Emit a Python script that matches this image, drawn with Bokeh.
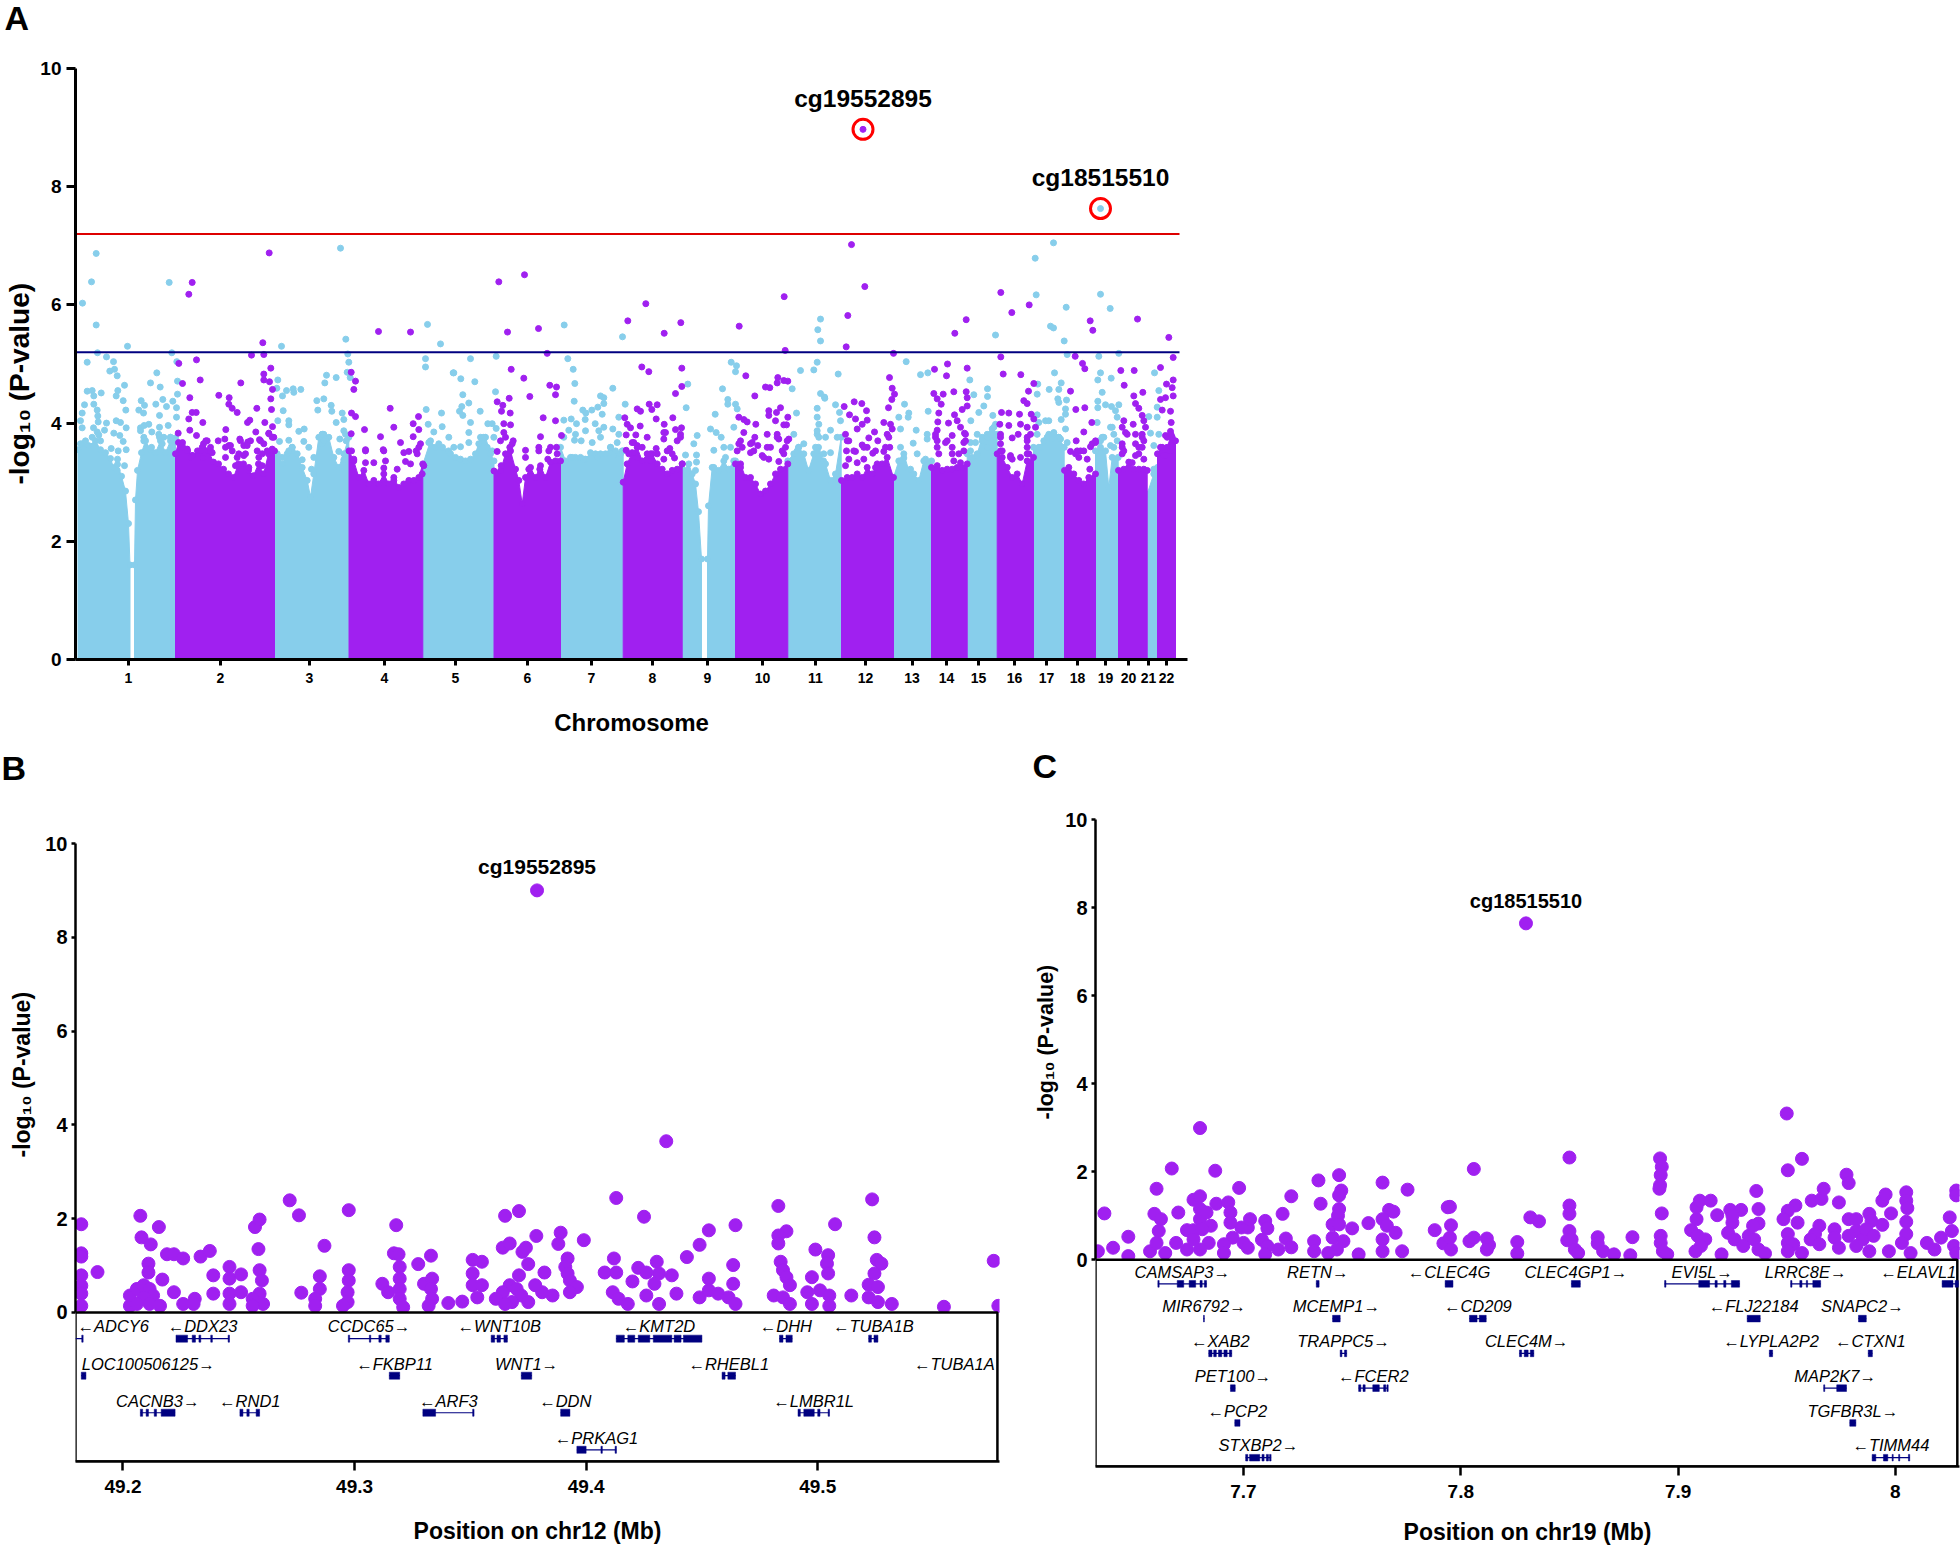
from bokeh.plotting import figure
from bokeh.layouts import column, row
from bokeh.models import Range1d, FixedTicker, Title
from bokeh.core.properties import value
from bokeh.embed import file_html
from bokeh.resources import INLINE

LIGHT = "#87CEEB"
PURPLE = "#A020F0"
NAVY = "#000080"
FONT = "Liberation Sans"

chrom_labels = [str(i) for i in range(1, 23)]
chrom_ticks = [53, 145, 234, 309, 380, 452, 516, 577, 632, 687, 740, 790, 836.6, 871, 903, 939, 971, 1002, 1030, 1053, 1073, 1091]

# upper edge of the solid body of each chromosome (pos, -log10 P); None separates bodies
light_body = [
    (2.5,3.55),(7,3.65),(13,3.62),(20,3.7),(25,3.55),(30,3.5),(35,3.4),(38,3.25),(42,3.3),(46,3.1),(50,2.85),(53,2.3),(54.5,1.6), None,
    (59,1.6),(60,2.7),(62,3.2),(66,3.5),(70,3.7),(75,3.55),(80,3.5),(85,3.7),(90,3.5),(95,3.7),(100,3.75), None,
    (199,3.4),(201.7,3.48),(206.7,3.31),(211.7,3.48),(216.7,3.59),(221.7,3.48),(226.7,3.25),(231.7,3.03),(235,2.75),(238.3,3.14),(243.3,3.76),(248.3,3.81),(253.3,3.76),(258.3,3.42),(263.3,3.25),(268.3,3.48),(273.3,3.76), None,
    (347.3,3.3),(355,3.7),(360,3.59),(367,3.59),(373,3.53),(375,3.48),(380,3.42),(385,3.39),(390,3.36),(395,3.39),(400,3.48),(405,3.76),(410,3.76),(415,3.48),(418.5,3.36), None,
    (485,3.59),(490,3.36),(495,3.42),(500,3.42),(505,3.42),(510,3.39),(515,3.5),(520,3.48),(525,3.48),(530,3.48),(535,3.59),(540,3.53),(545,3.48),(547.7,3.53), None,
    (606.7,3.2),(608.3,3.2),(613.3,3.31),(616.7,3.14),(620,2.97),(623,2.5),(626,1.7), None,
    (632,1.7),(633,2.6),(636.7,3.25),(643,3.2),(648.3,3.36),(653.3,3.22),(658.3,3.36),(660,3.36), None,
    (712.3,3.36),(718.3,3.48),(723,3.59),(728.3,3.48),(733,3.2),(738.3,3.48),(743,3.59),(748,3.36),(750,3.31),(755,3.03),(760,3.14),(765.7,3.76), None,
    (818,3.08),(823.3,3.36),(828.3,3.48),(833.3,3.2),(838.3,3.14),(843.3,3.03),(848.3,3.36),(853.3,3.31),(856,3.36), None,
    (891.7,3.48),(896.7,3.42),(901.7,3.48),(906.7,3.76),(911.7,3.81),(916.7,3.9),(921.7,3.81), None,
    (958,3.59),(963.3,3.59),(968.3,3.7),(973.3,3.81),(978.3,3.81),(983.3,3.76),(988.7,3.59), None,
    (1020,3.53),(1025,3.59),(1030,3.53),(1033.3,2.91),(1036.7,3.42),(1042.7,3.42), None,
    (1071.7,2.8),(1078.3,3.14),(1082,3.25),
]
purple_body = [
    (100,3.48),(103,3.67),(107,3.67),(112,3.53),(117,3.45),(122,3.53),(128,3.65),(133,3.53),(138,3.34),(143,3.31),(148,3.22),(153,3.14),(158,3.08),(163,3.31),(168,3.31),(173,3.2),(178,3.11),(183,3.31),(188,3.14),(193,3.48),(199,3.53), None,
    (273.5,3.53),(278.3,3.36),(283.3,3.08),(288.3,3.2),(293.3,2.97),(298.3,3.03),(303.3,2.97),(308.3,3.14),(313.3,2.97),(318.3,3.08),(323.3,2.91),(328.3,2.97),(333.3,3.03),(338.3,3.03),(343.3,3.08),(347.3,3.31), None,
    (418.5,3.19),(425,3.19),(430,3.48),(435,3.53),(440,3.22),(443.3,3.03),(446.7,2.63),(450,3.08),(455,3.25),(460,3.08),(465,3.28),(470,3.08),(475,3.34),(480,3.36),(485,3.36), None,
    (547.7,3.0),(551.7,3.31),(556.7,3.5),(561.7,3.59),(566.7,3.36),(571.7,3.48),(576.7,3.48),(581.7,3.31),(586.7,3.22),(591.7,3.14),(596.7,3.2),(601.7,3.22),(606.7,3.31), None,
    (660,3.31),(665,3.31),(670,3.08),(675,3.08),(680,2.97),(685,2.8),(690,2.85),(695,2.97),(700,3.14),(705,3.22),(712.3,3.31), None,
    (766,3.03),(771.7,3.08),(776.7,3.08),(781.7,3.14),(786.7,3.08),(791.7,3.25),(796.7,3.14),(801.7,3.31),(806.7,3.31),(811.7,3.42),(818,3.08), None,
    (856,3.25),(861.7,3.28),(866.7,3.2),(871.7,3.22),(876.7,3.22),(881.7,3.25),(886.7,3.25),(891.7,3.31), None,
    (921.7,3.48),(926.7,3.42),(931.7,3.25),(936.7,3.08),(941.7,3.14),(946.7,2.97),(951.7,3.36),(958,3.42), None,
    (989,3.2),(993.3,3.25),(998.3,3.14),(1003.3,3.03),(1008.3,2.97),(1013.3,3.08),(1020,3.14), None,
    (1043,3.2),(1048.3,3.22),(1053.3,3.34),(1058.3,3.22),(1063.3,3.22),(1068.3,3.22),(1071.7,3.2), None,
    (1082,3.48),(1086.7,3.53),(1091.7,3.59),(1095.7,3.8),(1100,3.7),
]

light_points = [
    (20.7,6.87),(16,6.39),(7,6.03),(20.7,5.66),(22,5.19),(52,5.3),(11.7,5.03),(31,5.12),(38,5.04),(34.3,4.88),(39,4.91),(41.7,4.8),(49,4.64),(42.3,4.55),(40.7,4.46),(25.7,4.51),(11.7,4.54),(16.7,4.55),(18.3,4.46),(47.7,4.38),(9,4.31),(18.3,4.32),(21.7,4.22),(6.7,4.17),(50.3,4.22),(22.3,4.12),(5,4.04),(22.7,4.02),(31,4.0),(40.7,4.04),(45,4.01),(50.7,3.92),(6.7,3.92),(18,3.92),(21.7,3.85),(29,3.88),(23.3,3.8),(38.3,3.83),(44.3,3.79),(47.7,3.69),(50.7,3.55),(35.7,3.57),(42.7,3.53),(42,3.39),(49,3.28),(41.7,3.2),
    (65.7,4.38),(69,4.3),(63.3,4.22),(68,4.17),(75,4.68),(81.3,4.85),(84.7,4.61),(80.3,4.32),(87.3,4.4),(91,4.28),(97.3,4.37),(102,4.49),(102,4.71),(101,4.26),(84,4.13),(101,4.1),(73.3,3.98),(65,3.92),(68.7,3.96),(76.3,3.85),(92.7,3.96),(84,3.93),(95,3.76),(68.3,3.76),(76,3.59),(84,3.76),(86.7,3.65),(96.3,5.19),(93.7,6.38),(101.3,5.04),
    (5,3.65),(10,3.7),(16.7,3.76),(25,3.7),(68.3,3.7),(83.3,3.81),(88.3,3.76),(95,3.76),(65,3.87),
    (206,5.3),(202.3,4.73),(201.3,4.59),(207,4.46),(211,4.55),(217.7,4.58),(218.3,4.52),(225.3,4.57),(207.7,4.21),(202.3,4.04),(213.3,4.04),(213.3,3.97),(223.3,3.86),(228.7,3.9),(213.3,3.71),(204,3.69),(228.3,3.69),(233.3,3.59),(241.3,4.38),(248.3,4.41),(242.3,4.22),(255.7,4.3),(256.3,4.2),(251,4.81),(249.3,4.68),(260.7,4.77),(265,6.96),(270.3,5.42),(272.3,5.17),(273.3,5.03),(271.7,4.86),(274.7,4.77),(266.7,4.17),(268.3,4.06),(260.7,4.01),(268.3,3.87),(246.7,3.81),(250,3.73),(264.3,3.73),(246.7,3.65),(270.7,3.7),(263.3,3.52),(238.3,3.42),(226.7,3.38),(216.7,3.53),(268.3,3.38),(236,3.22),(206.7,3.42),
    (216.7,3.59),(203.3,3.42),(246.7,3.81),(248.3,3.7),(270,3.81),(213.3,3.53),
    (352,5.67),(365,5.34),(350,5.09),(350,4.95),(377.7,4.85),(350.7,4.23),(366,4.17),(352.7,3.98),(358.3,3.85),(366.7,3.94),(373.3,3.76),(353.3,3.67),(363.3,3.65),
    (378.3,4.85),(385.3,4.75),(399.3,4.7),(395,5.09),(420.7,5.13),(420,4.53),(387.3,4.48),(393.3,4.34),(386.3,4.28),(384,4.2),(387.3,4.13),(404.7,4.2),(395,4.01),(412.3,3.99),(416.7,3.99),(420.7,3.91),(393.3,3.84),(393.3,3.67),(408.3,3.76),(385,3.6),(403.3,3.65),(411.7,3.59),(418.3,3.76),(416.7,3.53),(378.3,3.59),
    (488.7,5.66),(492.3,5.09),(497.7,4.91),(499.3,4.67),(498.7,4.37),(537.3,4.59),(547,5.46),(525,4.46),(528.3,4.43),(528.3,4.33),(522.3,4.27),(516.3,4.22),(507.3,4.22),(510.3,4.17),(526.7,4.15),(549.7,4.32),(543.3,4.1),(488.3,4.05),(495.7,4.07),(501,3.99),(509.7,4.06),(519.7,3.99),(493.3,3.88),(510,3.87),(523.3,3.87),(528.3,3.93),(537.3,3.9),(543.3,3.81),(500,3.81),(488.3,3.76),(499,3.71),(505.7,3.7),(516.7,3.67),(525,3.76),(541.7,3.67),(535,3.59),(496.7,3.42),(508.3,3.39),(521.7,3.42),(538.3,3.45),(546.7,3.53),
    (612.3,4.66),(610.7,4.26),(639.7,4.15),(647,4.58),(655.7,5.03),(661,4.97),(660,4.87),(652.3,4.4),(652.3,4.32),(660,4.32),(661.7,4.24),(621.7,3.79),(618.3,3.65),(621,3.46),(621,3.34),(610,3.46),(635,3.9),(640.7,3.84),(645.7,3.76),(658.3,3.93),(638.3,3.54),(648.3,3.59),(655,3.59),(620,3.2),(638.3,3.25),(650,3.42),
    (745,5.76),(742.3,5.58),(745,5.39),(741.7,5.03),(725,4.89),(738.3,4.9),(716.7,4.58),(745,4.5),(749,4.44),(741.7,4.25),(721,4.17),(741.7,4.1),(743.3,3.98),(741.7,3.81),(718.3,3.81),(728.3,3.65),(721.7,3.53),(741.7,3.53),(748.3,3.48),(762.7,4.83),(749.3,4.42),(760,4.31),(764,4.18),(765,4.04),(755,3.88),(750,3.76),(761.7,3.76),(755,3.5),
    (723.3,3.59),(740,3.59),(743.3,3.76),(741.7,3.87),
    (830.7,5.04),(845,4.82),(852.3,4.85),(829,4.32),(823.3,4.1),(833.3,4.17),(852.7,4.2),(832.7,4.1),(825,3.9),(840.7,3.88),(851.7,3.81),(851.7,3.73),(837.7,3.66),(825,3.59),(841.7,3.48),(828.3,3.41),(850,3.39),(825,3.36),(835,3.22),
    (894.3,4.73),(912,4.58),(912,4.45),(898.3,4.48),(908.3,4.29),(903.3,4.18),(917.3,4.13),(895.3,4.04),(920,3.98),(901.7,3.81),(895,3.67),(900,3.67),(911.7,3.76),(918.3,3.81),(901.7,3.45),(895,3.53),(911.7,3.59),(920,5.49),(906.7,3.7),(918.3,3.93),(915,3.81),
    (959.7,6.79),(978,7.05),(960.7,6.17),(990.7,5.96),(975,5.64),(978,5.61),(988.7,5.39),(991.7,5.16),(979,4.85),(962.3,4.66),(985.7,4.68),(973.7,4.57),(983.3,4.57),(961.7,4.49),(982.3,4.41),(991,4.39),(983.3,4.35),(990,4.24),(961.7,4.14),(990,4.15),(985.7,4.06),(970,4.04),(973.3,4.04),(963.3,4.01),(990,3.9),(961.7,3.81),(978.3,3.81),(971.7,3.76),(983.3,3.76),(976.7,3.73),(991.7,3.67),(978.3,3.84),(985,3.73),(965,3.59),
    (1025,6.18),(1034.7,5.94),(1023.3,5.13),(1043.3,5.18),(1025,4.85),(1022.3,4.73),(1035.7,4.76),(1026.7,4.52),(1022.3,4.37),(1030,4.31),(1022.3,4.26),(1043.3,4.31),(1036,4.28),(1040,4.21),(1041.7,4.1),(1021.7,4.01),(1036.7,3.93),(1038.3,3.81),(1026.7,3.76),(1035,3.62),(1025,3.7),(1041.7,3.7),(1023.3,3.7),(1028.3,3.76),(1038.3,3.59),(1035,3.93),
    (1079,4.85),(1083.3,4.55),(1081.7,4.27),(1073.3,4.11),(1081.7,4.1),(1075,3.83),(1083.3,3.81),(1078.3,3.62),(1078.3,3.22),
]
purple_points = [
    (103.3,5.01),(113.3,6.18),(116.7,6.38),(121,5.07),(107,4.67),(124.7,4.73),(114.3,4.43),(116.7,4.18),(120.7,4.18),(113.3,4.07),(127.3,4.01),(114.3,3.88),(102.7,3.83),(121,3.79),(130.3,3.7),(106.7,3.62),(111.7,3.56),(126.7,3.59),(135,3.53),(116.7,3.45),(127.3,3.41),(142.7,3.7),(150.3,3.89),(143.3,4.47),(153.7,4.43),(153.3,4.32),(156.7,4.25),(161.7,4.18),(165.3,4.68),(176,5.15),(187.3,5.36),(188.3,5.16),(193.7,6.88),(195.3,4.93),(188.3,4.83),(188.3,4.73),(194,4.7),(197,4.57),(195.3,4.41),(196,4.23),(181.3,4.25),(172,4.01),(174.3,4.05),(189.3,4.01),(197,3.94),(180.3,3.85),(193.3,3.83),(196.7,3.76),(184,3.72),(164.3,3.73),(172.3,3.68),(149.3,3.73),(153.3,3.62),(168.3,3.62),(188.3,3.65),(181.7,3.53),(196.7,3.56),(150,3.42),(161.7,3.42),(168.3,3.45),(183.3,3.42),(160,3.28),(173.3,3.25),(186.7,3.28),
    (106.7,3.59),(111.7,3.53),(115,3.42),(125,3.53),(131.7,3.7),(135,3.59),(136.7,3.5),(150,3.59),(155,3.62),(156.7,3.53),(165,3.7),(171.7,3.62),(175,3.7),(185,3.7),(193.3,3.82),(198.3,3.76),(163.3,3.48),(170,3.48),(186.7,3.48),(191.7,3.53),
    (275.7,4.86),(280,4.71),(278.3,4.57),(276,4.17),(280,4.11),(275.7,3.82),(289,3.89),(303,5.55),(335,5.54),(314.7,4.25),(305,3.77),(318.3,3.93),(343,4.11),(337.7,3.99),(343.3,3.89),(337.7,3.77),(325,3.67),(290,3.55),(307.7,3.55),(276,3.53),(278.3,3.39),(290,3.33),(298.3,3.33),(310,3.36),(308.3,3.24),(333.3,3.52),(340.7,3.53),(345,3.65),(330,3.35),(335,3.31),(348.3,3.28),(346.7,3.14),(321.7,3.22),(318.3,3.03),
    (341.7,3.48),(343.3,3.59),(328.3,3.5),(290,3.53),(308.3,3.53),
    (423.3,6.39),(449,6.51),(432,5.54),(463,5.6),(471.7,5.18),(435.7,4.91),(448.3,4.76),(474.3,4.64),(481,4.61),(480,4.48),(454.3,4.45),(433.7,4.42),(421.7,4.36),(427.3,4.3),(426,4.2),(434.7,4.17),(467.7,4.09),(480,4.04),(428.3,3.99),(435,3.97),(428.3,3.84),(425,3.7),(437.7,3.7),(465,3.77),(434.3,3.59),(421.7,3.52),(450,3.54),(450,3.42),(463.3,3.59),(473.3,3.53),(481,3.59),(472.3,3.39),(425.7,3.28),(453.3,3.22),(464.3,3.22),(486,3.79),
    (430,3.76),(436.7,3.65),(433.3,3.48),(463.3,3.53),(475,3.59),(481.7,3.48),
    (552.3,5.73),(570.3,6.02),(588.7,5.52),(605.3,5.7),(566.3,4.95),(573.3,4.87),(606.3,4.93),(606.3,4.62),(600,4.5),(573.7,4.32),(581.7,4.31),(576.3,4.23),(561.7,4.24),(565,4.2),(549.3,4.09),(580.7,4.07),(597.3,4.09),(551.7,3.98),(555,3.92),(564.7,3.95),(588.7,3.98),(606,3.92),(600,3.89),(550.7,3.8),(560.3,3.8),(571.7,3.76),(590,3.84),(588.3,3.73),(605,3.76),(558.3,3.67),(601.7,3.7),(566.7,3.59),(580.7,3.57),(594.3,3.57),(550.7,3.54),(575,3.48),(588.3,3.39),(599,3.41),(561.7,3.42),(606.7,3.31),
    (553.3,3.48),(561.7,3.62),(556.7,3.67),(575,3.36),(581.7,3.48),(591.7,3.53),(588.3,3.84),(605,3.81),(596.7,3.48),
    (663.7,5.64),(708.7,6.14),(709.7,5.23),(670.3,4.8),(679.3,4.46),(690,4.61),(694.3,4.6),(702.3,4.77),(701.7,4.68),(708.3,4.72),(712.3,4.71),(663.3,4.1),(668.3,4.06),(671.7,4.02),(693.3,4.21),(693.3,4.13),(701,4.18),(705,4.26),(712.3,4.1),(680.3,3.98),(700,4.04),(708.3,3.97),(711,3.97),(668.3,3.84),(691.7,3.81),(701.7,3.81),(703.3,3.73),(713.3,3.73),(679.3,3.76),(663.3,3.65),(666.7,3.59),(676.7,3.67),(682.3,3.62),(675,3.5),(691.7,3.59),(706.7,3.53),(710,3.59),(686.7,3.45),(693.3,3.39),(703.3,3.35),(665,3.25),
    (665,3.7),(661.7,3.53),(678.3,3.53),(675,3.65),(688.3,3.42),(695,3.59),(701.7,3.76),(708.3,3.48),(711.7,3.7),
    (776,7.02),(789.3,6.31),(772.3,5.82),(770.7,5.29),(818,5.18),(814,4.77),(816.7,4.59),(819,4.49),(816.3,4.4),(768.7,4.28),(778.7,4.36),(786.3,4.33),(791,4.21),(774,4.14),(813,4.26),(780,4.07),(791.7,4.05),(808.3,4.01),(786.7,3.98),(781.7,3.9),(816.7,3.9),(770,3.81),(799,3.85),(811.7,3.81),(773.3,3.7),(793.3,3.75),(802.3,3.7),(786.7,3.63),(791.7,3.59),(814.3,3.59),(771,3.53),(780,3.52),(797.3,3.49),(808.3,3.52),(773.3,3.39),(788.3,3.39),(770,3.28),(781.7,3.33),(800,3.25),
    (771.7,3.7),(778.3,3.53),(788.3,3.59),(800,3.53),(810,3.59),(813.3,3.76),(815,3.98),
    (879.3,5.52),(890.7,5.75),(859,4.91),(872,5),(871,4.8),(891.7,4.93),(858.3,4.5),(867.7,4.49),(878.3,4.53),(890.7,4.53),(891.7,4.43),(861.7,4.41),(865.7,4.32),(891.7,4.29),(886.7,4.23),(863.3,4.17),(879,4.14),(862.3,4.02),(881.7,4.04),(873,4),(885,3.93),(861.7,3.88),(889,3.83),(876.7,3.79),(860,3.76),(888.3,3.67),(870,3.67),(861.7,3.59),(876.7,3.59),(888.3,3.53),(876.7,3.48),(863.3,3.48),(885,3.33),(878.3,3.36),
    (860,3.81),(861.7,3.7),(871.7,3.7),(883.3,3.48),(890,3.7),(890,3.81),
    (925.3,6.21),(936.3,5.87),(953.7,6.0),(925.3,5.12),(927.7,4.83),(945.3,4.82),(958.3,4.67),(953,4.54),(948.3,4.38),(951.7,4.33),(926,4.18),(933.3,4.17),(944,4.15),(955.7,4.15),(958.3,4.07),(924.3,3.98),(933.3,3.96),(945,3.98),(951.7,3.93),(960,3.93),(942.7,3.81),(925,3.81),(936.7,3.75),(951.7,3.76),(925,3.65),(951.7,3.59),(935,3.45),(945,3.42),(953.3,3.48),(925,3.53),(936.7,3.39),
    (925,3.76),(926.7,3.53),(935,3.42),(951.7,3.7),(955,3.81),(951.7,3.48),
    (999.7,5.13),(1007,5.01),(1009.3,4.92),(995,4.54),(1000.3,4.23),(1009.3,4.26),(1016.3,4.01),(1008.3,3.85),(1000.7,3.7),(1020,3.67),(1015,3.6),(995,3.52),(1001.7,3.53),(1008.3,3.53),(1003.3,3.42),(1011.7,3.39),(1014.3,3.22),(1014.7,5.73),(1017.3,5.57),
    (1000,3.48),(1005,3.53),(1016.7,3.65),(1020,3.7),
    (1062,5.76),(1045.3,4.89),(1058.7,4.89),(1048.7,4.64),(1058.3,4.46),(1067.3,4.52),(1060,4.33),(1063.3,4.25),(1066.7,4.13),(1048.3,4.04),(1068.3,4.04),(1046.7,3.93),(1057.7,3.98),(1070,3.93),(1051.7,3.81),(1060,3.81),(1066.7,3.76),(1046.7,3.59),(1060,3.65),(1066.7,3.59),(1046.7,3.48),(1063.3,3.48),(1068.3,3.39),(1056.7,3.33),
    (1046.7,3.65),(1048.3,3.53),(1063.3,3.59),(1068.3,3.7),(1066.7,3.81),(1050,3.84),(1060,3.45),
    (1093.3,5.45),(1097.7,5.11),(1085,4.94),(1097.7,4.73),(1091,4.66),(1096.7,4.6),(1090,4.43),(1085,4.4),(1097.7,4.46),(1086.7,4.22),(1095,4.2),(1095.7,4.01),(1095,3.86),(1090,3.79),(1096.7,3.76),(1086.7,3.59),(1095,3.53),(1088.3,3.45),
    (1091.7,3.76),(1096.7,3.59),(1085,3.59),(1095,3.81),(1090,3.45),
]
hits_a = [("cg19552895", 787.5, 8.97, PURPLE), ("cg18515510", 1025, 7.63, LIGHT)]
threshold_red = 7.2
threshold_blue = 5.2
threshold_end = 1104

points_b = [
    (49.182,1.88),(49.182,1.26),(49.182,1.19),(49.182,.79),(49.182,.57),(49.182,.4),(49.182,.14),(49.189,.86),(49.2075,2.06),(49.208,1.6),(49.212,1.45),(49.2155,1.82),(49.211,1.04),(49.211,.85),(49.217,.7),(49.219,1.24),(49.222,1.24),(49.226,1.15),(49.2335,1.19),(49.2375,1.31),(49.239,.79),(49.239,.4),(49.246,.97),(49.246,.72),(49.246,.4),(49.246,.18),(49.251,.81),(49.251,.43),(49.222,.43),(49.226,.18),(49.231,.29),(49.2305,.18),(49.203,.36),(49.203,.14),(49.206,.5),(49.209,.58),(49.2115,.5),(49.213,.36),(49.209,.32),(49.206,.18),(49.2115,.18),(49.216,.14),
    (49.257,1.82),(49.259,1.98),(49.2585,1.35),(49.259,.9),(49.26,.68),(49.259,.4),(49.256,.29),(49.2605,.18),(49.256,.14),(49.272,2.39),(49.276,2.07),(49.277,.42),(49.285,.77),(49.285,.5),(49.283,.29),(49.283,.14),(49.287,1.42),(49.2975,2.18),(49.2975,.9),(49.2975,.68),(49.297,.43),(49.297,.22),(49.295,.14),(49.312,.61),(49.3145,.43),(49.318,1.86),(49.317,1.26),(49.319,1.24),(49.3195,.97),(49.3195,.72),(49.3195,.5),(49.3195,.29),(49.321,.11),(49.3275,1.03),(49.333,1.21),(49.33,.61),(49.3335,.72),(49.333,.5),(49.3335,.29),(49.332,.14),(49.3405,.2),(49.3465,.23),
    (49.351,1.12),(49.355,1.08),(49.351,.83),(49.351,.58),(49.355,.58),(49.353,.32),(49.365,2.06),(49.371,2.16),(49.364,1.38),(49.367,1.47),(49.3725,1.29),(49.374,1.38),(49.375,1.03),(49.3785,1.63),(49.371,.79),(49.367,.58),(49.364,.43),(49.361,.29),(49.37,.5),(49.372,.36),(49.375,.22),(49.368,.22),(49.365,.18),(49.382,.85),(49.389,1.7),(49.388,1.46),(49.399,1.54),(49.392,1.15),(49.391,.97),(49.392,.83),(49.393,.68),(49.396,.54),(49.393,.43),(49.3855,.36),(49.381,.43),(49.378,.58),
    (49.408,.85),(49.412,1.15),(49.413,.85),(49.413,2.44),(49.425,2.04),(49.42,.66),(49.4225,.95),(49.426,.85),(49.426,.36),(49.4305,1.08),(49.4315,.83),(49.4295,.61),(49.437,.79),(49.439,.4),(49.4315,.18),(49.4435,1.18),(49.449,1.44),(49.453,1.75),(49.4645,1.86),(49.4635,1.01),(49.4635,.61),(49.453,.72),(49.4115,.43),(49.414,.29),(49.418,.18),(49.449,.32),(49.453,.47),(49.457,.4),(49.4615,.32),(49.4645,.18),
    (49.483,2.27),(49.4865,1.73),(49.483,1.64),(49.483,1.47),(49.484,1.08),(49.485,.9),(49.4865,.75),(49.488,.58),(49.481,.36),(49.485,.32),(49.488,.18),(49.499,1.34),(49.5075,1.88),(49.5045,1.22),(49.504,1.04),(49.5045,.83),(49.4975,.75),(49.4955,.43),(49.501,.47),(49.505,.36),(49.4975,.18),(49.505,.14),(49.5145,.36),(49.5235,2.41),(49.5245,1.6),(49.5255,1.12),(49.5275,1.04),(49.5245,.83),(49.522,.59),(49.526,.54),(49.522,.32),(49.526,.22),(49.532,.18),(49.5545,.12),(49.576,1.1),(49.578,.14),
]
hit_b = (49.3788, 9.0)
extra_b = (49.4346, 3.65)

points_c = [
    (7.633,.19),(7.636,1.05),(7.64,.27),(7.647,.52),(7.647,.08),(7.657,.19),(7.659,1.04),(7.66,1.61),(7.662,.92),(7.661,.65),(7.66,.38),(7.664,.15),(7.667,2.07),(7.669,.38),(7.67,1.07),(7.674,.67),(7.677,.67),(7.674,.23),(7.677,.46),(7.68,2.99),(7.677,1.36),(7.68,1.44),(7.68,1.15),(7.68,.92),(7.683,1.07),(7.685,.77),(7.681,.69),(7.684,.38),(7.68,.23),(7.687,2.02),(7.6875,1.27),(7.693,1.3),(7.694,1.07),(7.694,.84),(7.698,1.63),(7.699,.73),(7.702,.73),(7.695,.5),(7.7,.38),(7.702,.27),(7.691,.35),(7.691,.15),
    (7.703,.92),(7.71,.88),(7.711,.71),(7.7085,.45),(7.711,.31),(7.716,.23),(7.71,.12),(7.718,1.04),(7.722,1.44),(7.7195,.48),(7.722,.28),(7.7345,1.8),(7.7355,1.27),(7.7325,.42),(7.7325,.19),(7.744,1.92),(7.745,1.57),(7.744,1.46),(7.744,1.15),(7.7435,1.0),(7.741,.8),(7.744,.8),(7.741,.5),(7.746,.42),(7.743,.23),(7.739,.15),(7.753,.12),(7.75,.71),(7.7575,.83),(7.764,1.75),(7.767,1.13),(7.769,1.09),(7.7755,1.59),(7.764,.92),(7.766,.77),(7.77,.61),(7.764,.46),(7.764,.19),(7.773,.19),
    (7.788,.67),(7.794,1.19),(7.795,1.2),(7.7955,.78),(7.792,.37),(7.795,.5),(7.7955,.23),(7.804,.42),(7.806,.5),(7.806,2.06),(7.812,.48),(7.813,.33),(7.812,.23),(7.826,.4),(7.826,.14),(7.832,.96),(7.836,.87),(7.85,2.32),(7.85,1.23),(7.85,1.04),(7.85,.65),(7.849,.44),(7.851,.46),(7.8525,.23),(7.854,.15),(7.863,.51),(7.863,.37),(7.8655,.19),(7.8705,.12),(7.879,.51),(7.878,.1),
    (7.8917,2.3),(7.8925,2.11),(7.892,1.92),(7.8917,1.69),(7.8914,1.61),(7.8925,1.05),(7.892,.54),(7.892,.38),(7.893,.19),(7.895,.12),(7.906,.67),(7.9085,.92),(7.9085,1.19),(7.91,1.34),(7.915,1.34),(7.918,1.01),(7.909,.54),(7.9125,.46),(7.9105,.31),(7.908,.19),(7.92,.12),(7.924,1.13),(7.929,1.13),(7.925,.84),(7.925,1.0),(7.923,.61),(7.926,.46),(7.9325,.54),(7.93,.31),(7.936,1.56),(7.937,1.15),(7.937,.82),(7.9345,.77),(7.935,.46),(7.937,.23),(7.94,.14),
    (7.95,3.32),(7.9505,2.03),(7.957,2.29),(7.954,1.23),(7.9505,1.11),(7.9485,.92),(7.955,.84),(7.9505,.58),(7.9505,.38),(7.953,.35),(7.9505,.19),(7.9615,1.34),(7.966,1.38),(7.967,1.61),(7.965,.77),(7.963,.58),(7.961,.46),(7.965,.35),(7.957,.15),(7.9775,1.93),(7.9785,1.74),(7.974,1.3),(7.9785,.92),(7.982,.92),(7.972,.69),(7.972,.5),(7.974,.27),(7.982,.65),(7.9785,.54),(7.985,.46),(7.988,1.04),(7.989,.88),(7.9865,.69),(7.99,.54),(7.982,.31),(7.988,.19),
    (7.994,1.34),(7.9955,1.48),(7.998,1.05),(7.994,.79),(7.997,.19),(8.005,1.53),(8.005,1.34),(8.0055,1.17),(8.005,.86),(8.005,.58),(8.003,.38),(8.007,.15),(8.0145,.38),(8.018,.23),(8.021,.5),(8.025,.96),(8.026,.65),(8.028,1.57),(8.028,1.46),(8.027,.31),(8.028,.15),
]
hit_c = (7.83, 7.64)

# gene tracks: name, start, end, strand, row, exons
genes_b = [
    ("ADCY6", 49.1795, 49.1825, "-", 0, [(49.1822, 49.1828)]),
    ("DDX23", 49.2229, 49.2458, "-", 0, [(49.2229, 49.2279), (49.2299, 49.2313), (49.2328, 49.2336), (49.2379, 49.2386), (49.2454, 49.246)]),
    ("CCDC65", 49.2975, 49.315, "+", 0, [(49.2973, 49.2979), (49.3064, 49.307), (49.3105, 49.3115), (49.3135, 49.315)]),
    ("WNT10B", 49.359, 49.366, "-", 0, [(49.359, 49.3605), (49.3615, 49.363), (49.3645, 49.366)]),
    ("KMT2D", 49.413, 49.45, "-", 0, [(49.413, 49.4165), (49.418, 49.421), (49.4225, 49.4275), (49.429, 49.437), (49.438, 49.441), (49.442, 49.45)]),
    ("DHH", 49.4835, 49.489, "-", 0, [(49.4835, 49.485), (49.4863, 49.489)]),
    ("TUBA1B", 49.522, 49.526, "-", 0, [(49.522, 49.5232), (49.5243, 49.526)]),
    ("LOC100506125", 49.182, 49.184, "+", 1, [(49.182, 49.184)]),
    ("FKBP11", 49.315, 49.3195, "-", 1, [(49.315, 49.3195)]),
    ("WNT1", 49.372, 49.3765, "+", 1, [(49.372, 49.3765)]),
    ("RHEBL1", 49.4587, 49.4645, "-", 1, [(49.4587, 49.46), (49.4612, 49.4645)]),
    ("TUBA1A", 49.58, 49.584, "-", 1, [(49.58, 49.584)]),
    ("CACNB3", 49.2075, 49.2225, "+", 2, [(49.2075, 49.2085), (49.21, 49.211), (49.2135, 49.2145), (49.2165, 49.2225)]),
    ("RND1", 49.2505, 49.259, "-", 2, [(49.2505, 49.2518), (49.2535, 49.2545), (49.2575, 49.259)]),
    ("ARF3", 49.3295, 49.3515, "-", 2, [(49.3295, 49.335), (49.351, 49.3516)]),
    ("DDN", 49.389, 49.393, "-", 2, [(49.389, 49.393)]),
    ("LMBR1L", 49.4915, 49.505, "-", 2, [(49.4915, 49.4925), (49.494, 49.4985), (49.5, 49.501), (49.5045, 49.5051)]),
    ("PRKAG1", 49.396, 49.413, "-", 3, [(49.396, 49.4), (49.4064, 49.407), (49.4125, 49.4131)]),
]
label_pos_b = {"ADCY6": 49.1958, "LOC100506125": 49.2109, "TUBA1A": 49.559}
genes_c = [
    ("CAMSAP3", 7.6606, 7.683, "+", 0, [(7.6606, 7.6612), (7.6695, 7.6725), (7.675, 7.678), (7.68, 7.681), (7.682, 7.683)]),
    ("RETN", 7.7335, 7.7348, "+", 0, [(7.7335, 7.7348)]),
    ("CLEC4G", 7.7928, 7.7964, "-", 0, [(7.7928, 7.7964)]),
    ("CLEC4GP1", 7.8509, 7.855, "+", 0, [(7.8509, 7.855)]),
    ("EVI5L", 7.8938, 7.9283, "+", 0, [(7.8938, 7.8944), (7.9095, 7.9145), (7.917, 7.918), (7.921, 7.922), (7.9245, 7.9283)]),
    ("LRRC8E", 7.9518, 7.9656, "+", 0, [(7.9518, 7.9524), (7.956, 7.957), (7.959, 7.9596), (7.962, 7.9656)]),
    ("ELAVL1", 8.0215, 8.029, "-", 0, [(8.0215, 8.0265), (8.0275, 8.029)]),
    ("MIR6792", 7.6816, 7.682, "+", 1, [(7.6816, 7.682)]),
    ("MCEMP1", 7.741, 7.7445, "+", 1, [(7.741, 7.7445)]),
    ("CD209", 7.804, 7.8117, "-", 1, [(7.804, 7.8075), (7.8085, 7.8117)]),
    ("FLJ22184", 7.9318, 7.9378, "-", 1, [(7.9318, 7.9378)]),
    ("SNAPC2", 7.983, 7.9866, "+", 1, [(7.983, 7.9866)]),
    ("XAB2", 7.684, 7.6946, "-", 2, [(7.684, 7.6855), (7.6863, 7.6875), (7.6885, 7.69), (7.691, 7.6925), (7.6935, 7.6946)]),
    ("TRAPPC5", 7.7445, 7.7475, "+", 2, [(7.7445, 7.7453), (7.7465, 7.7475)]),
    ("CLEC4M", 7.827, 7.8336, "+", 2, [(7.827, 7.828), (7.8292, 7.831), (7.832, 7.8336)]),
    ("LYPLA2P2", 7.942, 7.9435, "-", 2, [(7.942, 7.9435)]),
    ("CTXN1", 7.9875, 7.9894, "-", 2, [(7.9875, 7.9894)]),
    ("PET100", 7.694, 7.6962, "+", 3, [(7.694, 7.6962)]),
    ("FCER2", 7.753, 7.7665, "-", 3, [(7.753, 7.754), (7.755, 7.756), (7.7595, 7.7625), (7.7645, 7.7655), (7.766, 7.7666)]),
    ("MAP2K7", 7.967, 7.9775, "+", 3, [(7.967, 7.9675), (7.973, 7.9775)]),
    ("PCP2", 7.696, 7.6984, "-", 4, [(7.696, 7.6984)]),
    ("TGFBR3L", 7.979, 7.9818, "+", 4, [(7.979, 7.9818)]),
    ("STXBP2", 7.701, 7.7127, "+", 5, [(7.701, 7.702), (7.7028, 7.7075), (7.7085, 7.7095), (7.7105, 7.7115), (7.712, 7.7127)]),
    ("TIMM44", 7.9893, 8.0066, "-", 5, [(7.9893, 7.991), (7.9945, 7.9965), (7.9985, 7.999), (8.0015, 8.002), (8.006, 8.0066)]),
]
label_pos_c = {"ELAVL1": 8.0105}


def split_body(body):
    xs, ys, cx, cy = [], [], [], []
    for item in body + [None]:
        if item is None:
            xs.append([cx[0]] + cx + [cx[-1]])
            ys.append([0] + cy + [0])
            cx, cy = [], []
        else:
            cx.append(item[0])
            cy.append(item[1])
    return xs, ys


def style_axes(p, tick_size, xtick_size, xlab_size, width, ytick_len, xtick_len):
    for ax in [p.xaxis[0], p.yaxis[0]]:
        ax.axis_line_width = width
        ax.major_tick_line_width = width
        ax.minor_tick_line_color = None
        ax.major_tick_in = 0
        ax.major_label_text_font = FONT
        ax.major_label_text_font_style = "bold"
        ax.axis_label_text_font = FONT
        ax.axis_label_text_font_style = "bold"
        ax.axis_label_text_color = "black"
        ax.major_label_text_color = "black"
        ax.axis_line_color = "black"
        ax.major_tick_line_color = "black"
    p.yaxis[0].major_tick_out = ytick_len
    p.xaxis[0].major_tick_out = xtick_len
    p.yaxis[0].major_label_text_font_size = f"{tick_size}px"
    p.xaxis[0].major_label_text_font_size = f"{xtick_size}px"
    p.xaxis[0].axis_label_text_font_size = f"{xlab_size}px"
    p.yaxis[0].ticker = FixedTicker(ticks=[0, 2, 4, 6, 8, 10])
    p.yaxis[0].bounds = (0, 10)
    p.grid.visible = False
    p.outline_line_color = None
    p.background_fill_color = "white"
    p.border_fill_color = None


def panel_letter(p, text, offset, standoff):
    p.add_layout(Title(text=text, align="left", offset=offset, standoff=standoff, vertical_align="top",
                       text_font=FONT, text_font_style="bold", text_font_size="34px",
                       text_color="black"), "above")


def y_title(p, offset, standoff, size):
    p.add_layout(Title(text="-log\u2081\u2080 (P-value)", align="left", offset=offset, standoff=standoff,
                       vertical_align="top", text_font=FONT, text_font_style="bold",
                       text_font_size=f"{size}px", text_color="black"), "left")


def draw_tracks(p, genes, label_pos, text_y, step, exon_off, font_size):
    for name, start, end, strand, row_i, exons in genes:
        ty = text_y - row_i * step
        ey = ty + exon_off
        mid = label_pos.get(name, (start + end) / 2)
        label = "\u2190" + name if strand == "-" else name + "\u2192"
        p.text([mid], [ty], text=[label], text_font=value(FONT), text_font_style="italic",
               text_font_size=f"{font_size}px", text_align="center", text_baseline="middle", text_color="black")
        p.line([start, end], [ey, ey], line_color=NAVY, line_width=1.2)
        p.quad(left=[e[0] for e in exons], right=[e[1] for e in exons],
               top=[ey + 0.075] * len(exons), bottom=[ey - 0.075] * len(exons),
               fill_color=NAVY, line_color=NAVY, line_width=0.5)


# ---------- panel A ----------
a = figure(frame_width=1112, frame_height=591, frame_align=False,
           x_range=Range1d(0, 1112), y_range=Range1d(0, 10),
           output_backend="svg", toolbar_location=None, margin=(-32, 0, 0, 0),
           min_border_left=75, min_border_top=100, min_border_bottom=75, min_border_right=773,
           x_axis_label="Chromosome")
style_axes(a, 19, 14, 24, 3, 9, 6)
a.xaxis[0].ticker = FixedTicker(ticks=chrom_ticks)
a.xaxis[0].major_label_overrides = dict(zip(chrom_ticks, chrom_labels))
a.xaxis[0].major_label_standoff = 7
a.xaxis[0].axis_label_standoff = 23
a.yaxis[0].major_label_standoff = 5

xs, ys = split_body(light_body)
a.patches(xs, ys, fill_color=LIGHT, line_color=LIGHT, line_width=1)
a.scatter([q[0] for q in light_body if q], [q[1] for q in light_body if q], size=6, color=LIGHT)
a.scatter([q[0] for q in light_points], [q[1] for q in light_points], size=6, color=LIGHT)
xs, ys = split_body(purple_body)
a.patches(xs, ys, fill_color=PURPLE, line_color=PURPLE, line_width=1)
a.scatter([q[0] for q in purple_body if q], [q[1] for q in purple_body if q], size=6, color=PURPLE)
a.scatter([q[0] for q in purple_points], [q[1] for q in purple_points], size=6, color=PURPLE)
a.line([0, threshold_end], [threshold_red, threshold_red], line_color="#DD0000", line_width=2)
a.line([0, threshold_end], [threshold_blue, threshold_blue], line_color=NAVY, line_width=2)
for name, x, y, colour in hits_a:
    a.scatter([x], [y], size=6, color=colour)
    a.scatter([x], [y], size=20, fill_color=None, line_color="red", line_width=3)
    a.text([x], [y + 0.53], text=[name], text_font=value(FONT), text_font_style="bold",
           text_font_size="24.5px", text_align="center", text_baseline="middle", text_color="black")
y_title(a, 175, 2, 28)
panel_letter(a, "A", -71, 60)

# ---------- panel B ----------
b_left, b_right = 49.1795, 49.5785
b_bottom = -3.18
b = figure(frame_width=924, frame_height=618, frame_align=False,
           x_range=Range1d(b_left, b_right), y_range=Range1d(b_bottom, 10),
           output_backend="svg", toolbar_location=None, margin=(-45, 0, 0, 0),
           min_border_left=75, min_border_top=150, min_border_bottom=90, min_border_right=31,
           x_axis_label="Position on chr12 (Mb)")
style_axes(b, 20, 19, 23, 2.5, 4, 9)
b.xaxis[0].ticker = FixedTicker(ticks=[49.2, 49.3, 49.4, 49.5])
b.xaxis[0].major_label_standoff = 9
b.xaxis[0].axis_label_standoff = 22
b.yaxis[0].major_label_standoff = 4
b.scatter([q[0] for q in points_b], [q[1] for q in points_b], size=13, color=PURPLE)
b.scatter([hit_b[0], extra_b[0]], [hit_b[1], extra_b[1]], size=13, color=PURPLE)
b.text([hit_b[0]], [hit_b[1] + 0.52], text=["cg19552895"], text_font=value(FONT), text_font_style="bold",
       text_font_size="21px", text_align="center", text_baseline="middle", text_color="black")
b.quad(left=[b_left], right=[49.5776], top=[0], bottom=[b_bottom], fill_color="white", line_color="black", line_width=2.5)
draw_tracks(b, genes_b, label_pos_b, -0.3, 0.79, -0.26, 16.5)
y_title(b, 304, 12, 23)
panel_letter(b, "B", -74, 110)

# ---------- panel C ----------
c_left, c_right = 7.6319, 8.0295
c_bottom = -4.70
c = figure(frame_width=864, frame_height=647, frame_align=False,
           x_range=Range1d(c_left, c_right), y_range=Range1d(c_bottom, 10),
           output_backend="svg", toolbar_location=None, margin=(-24, 0, 0, 0),
           min_border_left=65, min_border_top=105, min_border_bottom=85, min_border_right=1,
           x_axis_label="Position on chr19 (Mb)")
style_axes(c, 20, 19, 23, 2.5, 4, 9)
c.xaxis[0].ticker = FixedTicker(ticks=[7.7, 7.8, 7.9, 8.0])
c.xaxis[0].major_label_overrides = {7.7: "7.7", 7.8: "7.8", 7.9: "7.9", 8.0: "8"}
c.xaxis[0].major_label_standoff = 9
c.xaxis[0].axis_label_standoff = 18
c.yaxis[0].major_label_standoff = 4
c.scatter([q[0] for q in points_c], [q[1] for q in points_c], size=13, color=PURPLE)
c.scatter([hit_c[0]], [hit_c[1]], size=13, color=PURPLE)
c.text([hit_c[0]], [hit_c[1] + 0.5], text=["cg18515510"], text_font=value(FONT), text_font_style="bold",
       text_font_size="20px", text_align="center", text_baseline="middle", text_color="black")
c.quad(left=[c_left], right=[8.0285], top=[0], bottom=[c_bottom], fill_color="white", line_color="black", line_width=2.5)
draw_tracks(c, genes_c, label_pos_c, -0.27, 0.79, -0.28, 16.5)
y_title(c, 347, 5, 21.5)
panel_letter(c, "C", -63, 65)

page = column(a, row(b, c, spacing=0), spacing=0)
html = file_html(page, INLINE)
html = html.replace("<head>", "<head><style>html,body{margin:0;padding:0;overflow:hidden;background:white}</style>", 1)
open("out.html", "w").write(html)
